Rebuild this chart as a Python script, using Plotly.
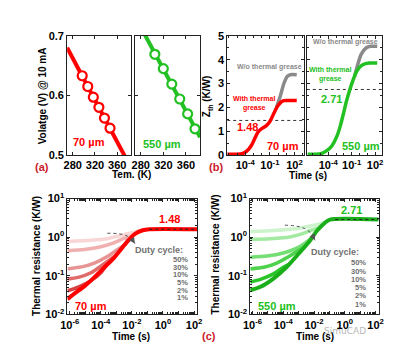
import numpy as np
import plotly.graph_objects as go

W, H = 403, 356
FONT = "Liberation Sans, Arial, sans-serif"
RED = "#ff0000"
GREEN = "#22c022"
GRAY = "#8a8a8a"
DARKRED = "#cc1a2a"

# ---------------- (a) forward voltage vs temperature ----------------
A_T_70 = [297, 307, 317, 327, 337, 347]
A_V_70 = [0.633, 0.615, 0.597, 0.580, 0.562, 0.545]
A_T_550 = [305, 320, 335, 349, 363, 376]
A_V_550 = [0.669, 0.645, 0.619, 0.594, 0.569, 0.544]
A_XTICKS = [280, 320, 360]
A_YTICKS = [0.5, 0.6, 0.7]

# ---------------- (b) Zth transient ----------------
B_T_70 = [6.3e-7, 3.8e-5, 1.5e-4, 5.8e-4, 1.4e-3, 3.5e-3, 8.7e-3, 0.034, 0.083, 0.135,
          0.33, 0.83, 2.0, 5.0, 12.6, 190]
B_Z_70 = [0.03, 0.05, 0.16, 0.41, 0.68, 0.95, 1.09, 1.22, 1.36, 1.49,
          1.77, 2.04, 2.20, 2.28, 2.29, 2.29]
B_T_70_NOG = [0.56, 2.0, 5.0, 12.6, 31, 190]
B_Z_70_NOG = [1.93, 2.51, 2.99, 3.29, 3.37, 3.37]
B_T_550 = [2.3e-7, 1.1e-5, 7.2e-5, 3.0e-4, 1.3e-3, 3.3e-3, 8.7e-3, 0.022, 0.058, 0.15,
           0.39, 1.0, 2.6, 17.8, 190]
B_Z_550 = [0.03, 0.05, 0.19, 0.39, 0.79, 1.19, 1.73, 2.27, 2.74, 3.14,
           3.48, 3.68, 3.79, 3.86, 3.86]
B_T_550_NOG = [0.24, 0.63, 1.66, 6.9, 29, 190]
B_Z_550_NOG = [3.31, 3.82, 4.22, 4.49, 4.56, 4.56]
B_LEVEL_70 = 1.45
B_LEVEL_550 = 2.75
B_XTICKS = [1e-4, 1e-1, 1e2]
B_XTICKTEXT = ["10<sup>-4</sup>", "10<sup>-1</sup>", "10<sup>2</sup>"]

# ---------------- (c) thermal resistance vs duty cycle ----------------
DUTY = ["50%", "30%", "10%", "5%", "2%", "1%"]
C70_T = {
    "50%": [7.1e-7, 2.3e-5, 2.6e-4, 1.8e-3, 7.4e-3, 0.0195, 0.05],
    "30%": [7.1e-7, 8.9e-6, 1.0e-4, 6.8e-4, 2.8e-3, 0.01],
    "10%": [7.1e-7, 5.6e-6, 3.8e-5, 2.6e-4, 1.1e-3, 3.2e-3],
    "5%": [7.1e-7, 3.5e-6, 2.3e-5, 1.0e-4, 4.2e-4, 1.0e-3],
    "2%": [7.1e-7, 3.5e-6, 2.3e-5, 1.0e-4, 2.5e-4],
    "1%": [7.1e-7, 2.1e-6, 8.9e-6, 3.8e-5, 1.6e-4, 6.8e-4, 2.2e-3, 5.9e-3, 0.015, 0.05, 0.13, 158],
}
C70_R = {
    "50%": [0.776, 0.832, 0.912, 1.096, 1.259, 1.413, 1.51],
    "30%": [0.447, 0.479, 0.562, 0.708, 0.912, 1.02],
    "10%": [0.151, 0.17, 0.214, 0.316, 0.468, 0.617],
    "5%": [0.083, 0.091, 0.12, 0.178, 0.269, 0.347],
    "2%": [0.041, 0.051, 0.075, 0.12, 0.195],
    "1%": [0.025, 0.035, 0.054, 0.091, 0.162, 0.288, 0.513, 0.83, 1.20, 1.51, 1.60, 1.60],
}
C550_T = {
    "50%": [7.1e-7, 2.3e-5, 4.3e-4, 4.8e-3, 0.026, 0.079],
    "30%": [7.1e-7, 1.4e-5, 2.6e-4, 1.8e-3, 7.8e-3, 0.025],
    "10%": [7.1e-7, 8.7e-6, 1.0e-4, 6.9e-4, 2.9e-3, 7.9e-3],
    "5%": [7.1e-7, 5.4e-6, 3.8e-5, 2.6e-4, 1.1e-3, 2.5e-3],
    "2%": [7.1e-7, 3.3e-6, 2.3e-5, 1.0e-4, 2.5e-4],
    "1%": [7.1e-7, 3.3e-6, 2.3e-5, 1.6e-4, 1.1e-3, 4.8e-3, 0.016, 0.054, 0.11, 158],
}
C550_R = {
    "50%": [1.40, 1.48, 1.62, 1.91, 2.24, 2.6],
    "30%": [0.871, 0.912, 1.01, 1.23, 1.55, 1.78],
    "10%": [0.302, 0.324, 0.389, 0.513, 0.724, 1.0],
    "5%": [0.151, 0.166, 0.214, 0.324, 0.468, 0.562],
    "2%": [0.069, 0.081, 0.112, 0.166, 0.2],
    "1%": [0.042, 0.052, 0.085, 0.166, 0.389, 0.759, 1.48, 2.40, 2.85, 2.85],
}
C70_COLORS = {"50%": "#f8d6d6", "30%": "#f0b0b0", "10%": "#e89494", "5%": "#e06a6a",
              "2%": "#d64242", "1%": "#ff0000"}
C550_COLORS = {"50%": "#cdf3cd", "30%": "#a2e9a2", "10%": "#74dd74", "5%": "#4ed24e",
               "2%": "#28c428", "1%": "#1aae1a"}
C70_PLATEAU_START = 0.13
C550_PLATEAU_START = 0.24
C70_ARROW_T = [2.6e-4, 1.26e-3, 5e-3, 0.0112, 0.0158]
C70_ARROW_R = [1.26, 1.23, 1.07, 0.83, 0.68]
C550_ARROW_T = [1.26e-4, 6.3e-4, 2.5e-3, 7.1e-3, 0.0117]
C550_ARROW_R = [2.04, 1.95, 1.66, 1.20, 0.83]
C_XTICKS = [10.0 ** k for k in range(-6, 3)]
C_XTEXT = ["10<sup>-6</sup>", "", "10<sup>-4</sup>", "", "10<sup>-2</sup>", "",
           "10<sup>0</sup>", "", "10<sup>2</sup>"]
C_YTICKS = [1e-2, 1e-1, 1e0, 1e1]
C_YTEXT = ["10<sup>-2</sup>", "10<sup>-1</sup>", "10<sup>0</sup>", "10<sup>1</sup>"]

fig = go.Figure()


def dom_x(a, b):
    return [a / W, b / W]


def dom_y(top, bottom):
    return [1 - bottom / H, 1 - top / H]


# ---- (a) traces ----
A_RANGE = [270, 385]
for i, (T, V, col) in enumerate([(A_T_70, A_V_70, RED), (A_T_550, A_V_550, GREEN)]):
    ax = "" if i == 0 else "2"
    k, b = np.polyfit(T, V, 1)
    xl = np.array(A_RANGE, dtype=float)
    fig.add_trace(go.Scatter(x=xl, y=k * xl + b, mode="lines", line=dict(color=col, width=4),
                             xaxis="x" + ax, yaxis="y" + ax, hoverinfo="skip"))
    fig.add_trace(go.Scatter(x=T, y=V, mode="markers",
                             marker=dict(symbol="circle", size=9, color="white",
                                         line=dict(color=col, width=2.2)),
                             xaxis="x" + ax, yaxis="y" + ax))

# ---- (b) traces ----
B_RANGE_70 = [-6.2, 3.15]
B_RANGE_550 = [-6.75, 2.95]
for ax, rng, level in [("3", B_RANGE_70, B_LEVEL_70), ("4", B_RANGE_550, B_LEVEL_550)]:
    fig.add_trace(go.Scatter(x=[10 ** rng[0], 10 ** rng[1]], y=[level, level], mode="lines",
                             line=dict(color="#333333", width=1, dash="dot"),
                             xaxis="x" + ax, yaxis="y" + ax))
fig.add_trace(go.Scatter(x=B_T_70_NOG, y=B_Z_70_NOG, mode="lines", line=dict(color=GRAY, width=3.5, shape="spline", smoothing=0.8),
                         xaxis="x3", yaxis="y3"))
fig.add_trace(go.Scatter(x=B_T_70, y=B_Z_70, mode="lines", line=dict(color=RED, width=3.5, shape="spline", smoothing=0.8),
                         xaxis="x3", yaxis="y3"))
fig.add_trace(go.Scatter(x=B_T_550_NOG, y=B_Z_550_NOG, mode="lines", line=dict(color=GRAY, width=3.5, shape="spline", smoothing=0.8),
                         xaxis="x4", yaxis="y4"))
fig.add_trace(go.Scatter(x=B_T_550, y=B_Z_550, mode="lines", line=dict(color=GREEN, width=3.5, shape="spline", smoothing=0.8),
                         xaxis="x4", yaxis="y4"))

# ---- (c) traces ----
C_RANGE = [-6.15, 2.2]
for ax, TT, RR, COLS, pstart, at, ar in [
        ("5", C70_T, C70_R, C70_COLORS, C70_PLATEAU_START, C70_ARROW_T, C70_ARROW_R),
        ("6", C550_T, C550_R, C550_COLORS, C550_PLATEAU_START, C550_ARROW_T, C550_ARROW_R)]:
    for d in DUTY:
        fig.add_trace(go.Scatter(x=TT[d], y=RR[d], mode="lines",
                                 line=dict(color=COLS[d], width=3.5 if d != "1%" else 4,
                                           shape="spline", smoothing=0.7),
                                 xaxis="x" + ax, yaxis="y" + ax))
    plateau = RR["1%"][-1]
    fig.add_trace(go.Scatter(x=[pstart, TT["1%"][-1]], y=[plateau, plateau], mode="lines",
                             line=dict(color="#222222", width=1, dash="dot"),
                             xaxis="x" + ax, yaxis="y" + ax))
    fig.add_trace(go.Scatter(x=at, y=ar, mode="lines",
                             line=dict(color="#555555", width=1, dash="dot", shape="spline"),
                             xaxis="x" + ax, yaxis="y" + ax))
    fig.add_annotation(x=np.log10(at[-1]), y=np.log10(ar[-1]), ax=np.log10(at[-2]), ay=np.log10(ar[-2]),
                       xref="x" + ax, yref="y" + ax, axref="x" + ax, ayref="y" + ax,
                       text="", showarrow=True, arrowhead=2, arrowsize=1.2, arrowwidth=1,
                       arrowcolor="#555555")

# ---- axes ----
common = dict(showline=True, linecolor="#222222", linewidth=1, mirror="ticks", ticks="inside",
              ticklen=3, tickwidth=1, tickcolor="#222222", showgrid=False, zeroline=False,
              tickfont=dict(family=FONT, size=11, color="black", weight="bold"))
layout = dict(
    xaxis=dict(domain=dom_x(62, 128), anchor="y", range=A_RANGE, tickvals=A_XTICKS, **common),
    yaxis=dict(domain=dom_y(29, 153), anchor="x", range=[0.5, 0.7], tickvals=A_YTICKS,
               ticktext=["0.5", "0.6", "0.7"], **common),
    xaxis2=dict(domain=dom_x(132, 199), anchor="y2", range=A_RANGE, tickvals=A_XTICKS, **common),
    yaxis2=dict(domain=dom_y(29, 153), anchor="x2", range=[0.5, 0.7], tickvals=A_YTICKS,
                showticklabels=False, **common),
    xaxis3=dict(domain=dom_x(227, 306), anchor="y3", type="log", range=B_RANGE_70,
                tickvals=B_XTICKS, ticktext=B_XTICKTEXT,
                minor=dict(ticks="inside", ticklen=2, tickvals=[10.0 ** k for k in range(-6, 4)]), **common),
    yaxis3=dict(domain=dom_y(29, 153), anchor="x3", range=[0, 5], tickvals=[0, 1, 2, 3, 4, 5],
                minor=dict(ticks="inside", ticklen=2, dtick=0.5), **common),
    xaxis4=dict(domain=dom_x(309, 387), anchor="y4", type="log", range=B_RANGE_550,
                tickvals=B_XTICKS, ticktext=B_XTICKTEXT,
                minor=dict(ticks="inside", ticklen=2, tickvals=[10.0 ** k for k in range(-6, 3)]), **common),
    yaxis4=dict(domain=dom_y(29, 153), anchor="x4", range=[0, 5], tickvals=[0, 1, 2, 3, 4, 5],
                showticklabels=False, minor=dict(ticks="inside", ticklen=2, dtick=0.5), **common),
)
c_minor_x = [m * 10.0 ** k for k in range(-7, 3) for m in range(2, 10)]
c_minor_y = [m * 10.0 ** k for k in range(-2, 1) for m in range(2, 10)]
for ax, xd in [("5", (62.3, 196)), ("6", (250.7, 383))]:
    layout["xaxis" + ax] = dict(domain=dom_x(*xd), anchor="y" + ax, type="log", range=C_RANGE,
                                tickvals=C_XTICKS, ticktext=C_XTEXT,
                                minor=dict(ticks="inside", ticklen=2, tickvals=c_minor_x), **common)
    layout["yaxis" + ax] = dict(domain=dom_y(198.3, 319), anchor="x" + ax, type="log", range=[-2, 1],
                                tickvals=C_YTICKS, ticktext=C_YTEXT,
                                minor=dict(ticks="inside", ticklen=2, tickvals=c_minor_y), **common)


def ann(text, x, y, size=10, color="black", angle=0, xanchor="center"):
    return dict(text=f"<b>{text}</b>", x=x / W, y=1 - y / H, xref="paper", yref="paper",
                showarrow=False, font=dict(family=FONT, size=size, color=color),
                textangle=angle, xanchor=xanchor, yanchor="middle")


anns = [
    # (a)
    ann("Volatge (V) @ 10 mA", 37, 91, 10, angle=-90),
    ann("Tem. (K)", 128, 173, 10),
    ann("(a)", 36, 165, 11, DARKRED),
    ann("70 µm", 85, 140, 11, RED),
    ann("550 µm", 160, 141.5, 11, GREEN),
    # (b)
    ann("Z<sub>th</sub> (K/W)", 207, 92, 10, angle=-90),
    ann("Time (s)", 310, 174, 10),
    ann("(b)", 215, 165, 11, DARKRED),
    ann("W/o thermal grease", 271, 61, 7, GRAY),
    ann("With thermal<br>grease", 255, 99, 7, RED),
    ann("1.48", 248, 124, 11, RED),
    ann("70 µm", 284.5, 143.5, 11, RED),
    ann("W/o thermal grease", 349, 35, 7, GRAY),
    ann("With thermal<br>grease", 333, 69.5, 7, GREEN),
    ann("2.71", 334, 95, 11, GREEN),
    ann("550 µm", 365, 143.5, 11, GREEN),
    # (c)
    ann("Thermal resistance (K/W)", 31, 258, 10, angle=-90),
    ann("Time (s)", 128, 342, 10),
    ann("1.48", 167.5, 220, 11, RED),
    ann("Duty cycle:", 156.7, 252, 9, "#707070"),
    ann("70 µm", 86.7, 310, 11, RED),
    ann("Thermal resistance (K/W)", 215, 257, 10, angle=-90),
    ann("Time (s)", 317, 342, 10),
    ann("(c)", 208, 341.5, 11, DARKRED),
    ann("2.71", 355.5, 210, 11, GREEN),
    ann("Duty cycle:", 338, 254.5, 9, "#707070"),
    ann("550 µm", 278, 310, 11, GREEN),
]
for d, y70, y550 in zip(DUTY, [261.7, 270, 277.7, 285.7, 294, 301.7],
                         [265, 274, 282.3, 290.7, 299, 308.3]):
    anns.append(ann(d, 188.5, y70, 7.5, "#707070", xanchor="right"))
    anns.append(ann(d, 372.5, y550, 7.5, "#707070", xanchor="right"))
wm = dict(text="SimuCAD", x=372 / W, y=1 - 343 / H, xref="paper", yref="paper", showarrow=False,
          font=dict(family="DejaVu Sans", size=9, color="#b8b8b8", weight="normal"))
anns.append(wm)

fig.update_layout(
    width=W, height=H, margin=dict(l=0, r=0, t=0, b=0),
    paper_bgcolor="white", plot_bgcolor="white", showlegend=False,
    font=dict(family=FONT, size=10, color="black", weight="bold"),
    **layout,
)
for a in anns:
    fig.add_annotation(**a)

fig.write_html("out.html", config={"displayModeBar": False},
               post_script="document.body.style.margin='0';document.body.style.padding='0';")
